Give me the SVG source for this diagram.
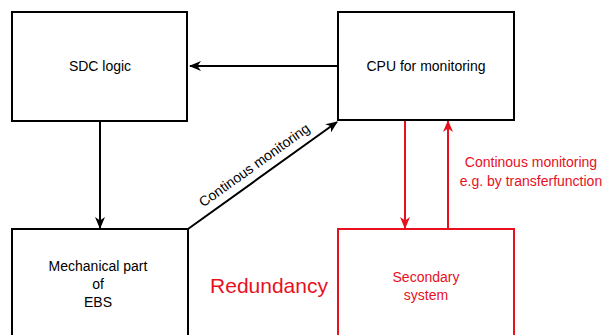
<svg xmlns="http://www.w3.org/2000/svg" width="607" height="335" viewBox="0 0 607 335">
<style>
.box{fill:#fff;stroke:#000;stroke-width:2}
.rbox{fill:#fff;stroke:#e8101e;stroke-width:2}
.t{font-family:"Liberation Sans",Arial,sans-serif;font-size:14px;fill:#000;text-anchor:middle}
.rt{font-family:"Liberation Sans",Arial,sans-serif;font-size:14px;fill:#e8101e;text-anchor:middle}
.c{stroke:#000;stroke-width:2;fill:none}
.rc{stroke:#e8101e;stroke-width:2;fill:none}
</style>
<defs>
<marker id="ah" markerWidth="12" markerHeight="12" refX="11" refY="6" orient="auto" markerUnits="userSpaceOnUse" viewBox="0 0 12 12">
<path d="M0,1 L12,6 L0,11 L3.5,6 Z" fill="#000"/>
</marker>
<marker id="rah" markerWidth="12" markerHeight="12" refX="11" refY="6" orient="auto" markerUnits="userSpaceOnUse" viewBox="0 0 12 12">
<path d="M0,1 L12,6 L0,11 L3.5,6 Z" fill="#e8101e"/>
</marker>
</defs>
<g id="connectors">
<line class="c" x1="338" y1="66" x2="190" y2="66" marker-end="url(#ah)"/>
<line class="c" x1="100" y1="121" x2="100" y2="228" marker-end="url(#ah)"/>
<line class="c" x1="188" y1="229" x2="337" y2="122" marker-end="url(#ah)"/>
<line class="rc" x1="405" y1="120" x2="405" y2="228" marker-end="url(#rah)"/>
<line class="rc" x1="448" y1="229" x2="448" y2="121" marker-end="url(#rah)"/>
<text class="t" transform="translate(257,169) rotate(-35.7)" x="0" y="0">Continous monitoring</text>
<text class="rt" x="531" y="167">Continous monitoring</text>
<text class="rt" x="531" y="186">e.g. by transferfunction</text>
</g>
<g id="sdc">
<rect class="box" x="12" y="12" width="175" height="109"/>
<text class="t" x="100" y="71">SDC logic</text>
</g>
<g id="cpu">
<rect class="box" x="338" y="12" width="176" height="108"/>
<text class="t" x="426" y="71">CPU for monitoring</text>
</g>
<g id="mech">
<rect class="box" x="12" y="229" width="176" height="120"/>
<text class="t" x="98" y="271">Mechanical part</text>
<text class="t" x="98" y="289">of</text>
<text class="t" x="98" y="307">EBS</text>
</g>
<g id="secondary">
<rect class="rbox" x="338" y="229" width="176" height="120"/>
<text class="rt" x="426" y="282">Secondary</text>
<text class="rt" x="426" y="300">system</text>
</g>
<g id="redundancy">
<text x="269" y="293" style="font-family:'Liberation Sans',Arial,sans-serif;font-size:21px;fill:#e8101e;text-anchor:middle">Redundancy</text>
</g>
</svg>
